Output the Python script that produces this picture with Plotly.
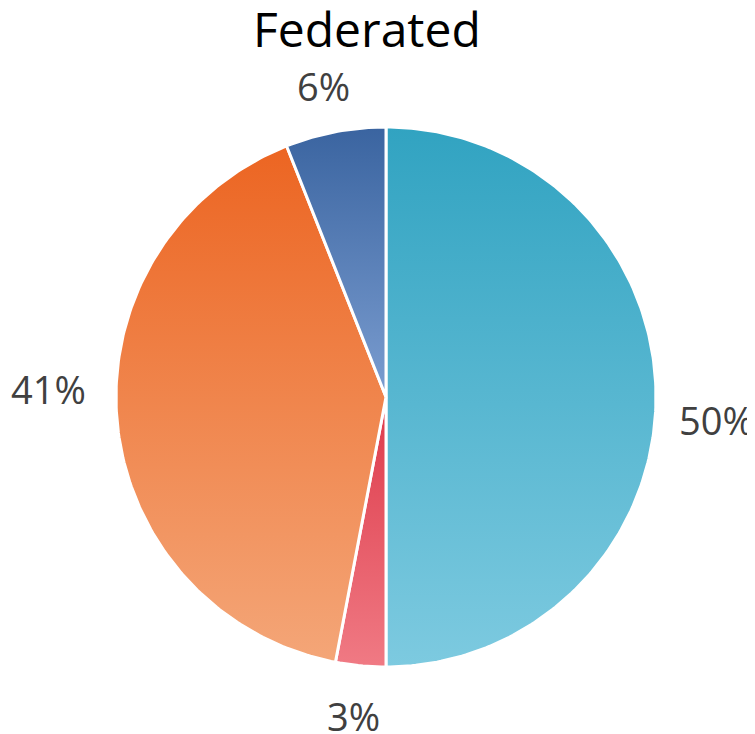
import numpy as np
import plotly.graph_objects as go

# ---- data ----
title_text = "Federated"
categories = ["A", "B", "C", "D"]
values = [50, 3, 41, 6]

# ---- styles ----
top_colors = ["#31a3c1", "#dd3a4a", "#ec6522", "#3a64a0"]
bottom_colors = ["#7dcae0", "#f07a84", "#f4a678", "#7b9dd0"]
label_shift = {"A": (-9, -23), "B": (-4, 7), "C": (0, 36), "D": (-6, -11)}

# page body has an 8px margin at the top-left; extend the figure to the window edge
PAD = 8
W, H = 755 - PAD, 734 - PAD
CX, CY, R = 386 - PAD, 397 - PAD, 270  # pixel centre / radius of the pie

fig = go.Figure()
total = float(sum(values))
cum = 0.0
annotations = []
for cat, v, ct, cb in zip(categories, values, top_colors, bottom_colors):
    a0 = 2 * np.pi * cum / total
    a1 = 2 * np.pi * (cum + v) / total
    n = max(3, int(400 * v / total))
    th = np.linspace(a0, a1, n)
    xs = np.concatenate([[0], np.sin(th), [0]])
    ys = np.concatenate([[0], np.cos(th), [0]])
    fig.add_trace(go.Scatter(
        x=xs, y=ys, mode="lines", fill="toself",
        fillgradient=dict(type="vertical", colorscale=[[0, cb], [1, ct]]),
        line=dict(color="white", width=3),
        hoverinfo="skip", showlegend=False,
    ))
    mid = (a0 + a1) / 2
    sx, cy = np.sin(mid), np.cos(mid)
    rl = 1.11
    xa = "left" if sx > 0.3 else ("right" if sx < -0.3 else "center")
    ya = "bottom" if cy > 0.3 else ("top" if cy < -0.3 else "middle")
    dx, dy = label_shift[cat]
    annotations.append(dict(
        x=rl * sx, y=rl * cy, xref="x", yref="y",
        text=f"{v / total * 100:.0f}%", showarrow=False,
        xanchor=xa, yanchor=ya, xshift=dx, yshift=dy,
        font=dict(family="Open Sans", size=38, color="#404040"),
    ))
    cum += v

annotations.append(dict(
    x=(367 - PAD) / W, y=1 + 14 / H, xref="paper", yref="paper",
    text=title_text, showarrow=False, xanchor="center", yanchor="top",
    font=dict(family="Open Sans", size=48, color="#000000"),
))

fig.update_layout(
    width=W, height=H,
    margin=dict(l=0, r=0, t=0, b=0),
    paper_bgcolor="white", plot_bgcolor="white",
    xaxis=dict(range=[-CX / R, (W - CX) / R], visible=False, fixedrange=True),
    yaxis=dict(range=[-(H - CY) / R, CY / R], visible=False, fixedrange=True),
    annotations=annotations,
    showlegend=False,
)
fig.write_html("out.html")
